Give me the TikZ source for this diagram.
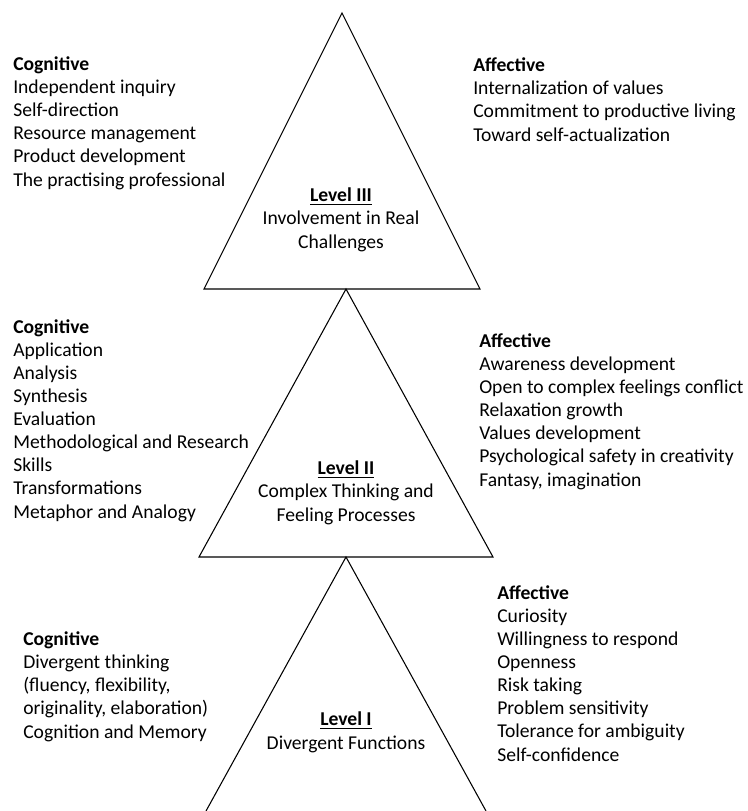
\documentclass[tikz,border=0pt]{standalone}
\usepackage{fontspec}
\setmainfont{Carlito}

\begin{document}
\begin{tikzpicture}
        [x=0.75pt,y=-0.75pt,
         every node/.style={inner sep=0,font=\fontsize{14.7}{17.3}\selectfont},
         block/.style={align=left,anchor=base west},
         levellabel/.style={align=center,anchor=base},
         tri/.style={line width=0.8pt,black,line join=miter}]

        \useasboundingbox (0,0) rectangle (747,811);

        % corners of the three triangles
        \coordinate (top3) at (342,13);
        \coordinate (left3) at (204,289);
        \coordinate (right3) at (480,289);
        \coordinate (top2) at (346,289);
        \coordinate (left2) at (199,557);
        \coordinate (right2) at (493,557);
        \coordinate (top1) at (346,557);
        \coordinate (left1) at (206,811);
        \coordinate (right1) at (486,811);

        \draw[tri] (top3) -- (left3) -- (right3) -- cycle;
        \draw[tri] (top2) -- (left2) -- (right2) -- cycle;
        \draw[tri] (left1) -- (top1) -- (right1);

        % level III (nodes sit on the baseline of their last line)
        \node[levellabel] (lev3) at (341,248) {\textbf{\underline{Level III}}\\Involvement in Real\\Challenges};
        \node[block] (cog3) at (13,186) {\textbf{Cognitive}\\Independent inquiry\\Self-direction\\Resource management\\Product development\\The practising professional};
        \node[block] (aff3) at (473,141) {\textbf{Affective}\\Internalization of values\\Commitment to productive living\\Toward self-actualization};

        % level II
        \node[levellabel] (lev2) at (346,521) {\textbf{\underline{Level II}}\\Complex Thinking and\\Feeling Processes};
        \node[block] (cog2) at (13,518) {\textbf{Cognitive}\\Application\\Analysis\\Synthesis\\Evaluation\\Methodological and Research\\Skills\\Transformations\\Metaphor and Analogy};
        \node[block] (aff2) at (479,486) {\textbf{Affective}\\Awareness development\\Open to complex feelings conflict\\Relaxation growth\\Values development\\Psychological safety in creativity\\Fantasy, imagination};

        % level I
        \node[levellabel] (lev1) at (346,749) {\textbf{\underline{Level I}}\\Divergent Functions};
        \node[block] (cog1) at (23,738) {\textbf{Cognitive}\\Divergent thinking\\(fluency, flexibility,\\originality, elaboration)\\Cognition and Memory};
        \node[block] (aff1) at (497,761) {\textbf{Affective}\\Curiosity\\Willingness to respond\\Openness\\Risk taking\\Problem sensitivity\\Tolerance for ambiguity\\Self-confidence};

      \end{tikzpicture}
\end{document}
